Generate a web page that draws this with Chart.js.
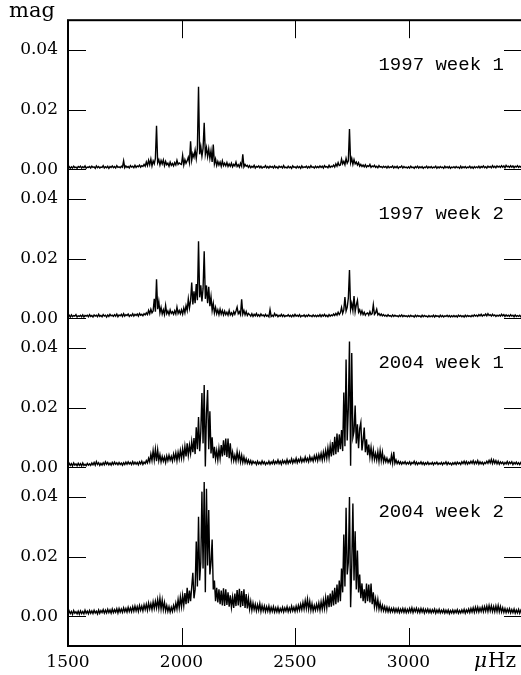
<!DOCTYPE html>
<html>
<head>
<meta charset="utf-8">
<script src="https://cdn.jsdelivr.net/npm/chart.js@4.4.1/dist/chart.umd.min.js"></script>
<style>
  html, body { margin: 0; padding: 0; background: #fff; overflow: hidden; }
  #wrap { width: 524px; height: 675px; }
</style>
</head>
<body>
<div id="wrap"><canvas id="spectra" width="524" height="675"></canvas></div>
<script>
// amplitude spectra, values in mmag, sampled every 5 microHz from 1500 microHz
const freqStart = 1500;
const freqStep = 5;

const amp1997w1 = [
  0.5,0.9,0.3,0.8,0.4,1.0,0.5,0.7,0.3,0.9,0.6,1.0,0.4,0.8,0.5,1.1,0.3,0.7,0.6,0.9,
  0.4,1.0,0.6,0.8,0.3,1.1,0.5,0.9,0.4,0.7,0.6,1.2,0.4,0.8,0.5,1.0,0.3,0.9,0.6,1.1,
  0.5,0.9,0.4,1.2,0.6,0.8,0.5,1.0,0.7,2.8,0.5,1.1,0.6,0.9,0.4,1.2,0.7,1.0,0.5,1.3,
  0.6,1.1,0.8,1.4,0.7,1.2,0.9,1.6,1.0,2.4,1.2,3.0,1.5,3.4,1.1,2.8,1.8,3.6,14.6,2.2,
  3.2,1.4,2.9,1.8,3.1,1.2,2.6,1.5,2.0,1.0,2.4,1.3,1.9,1.1,2.2,1.4,3.0,1.6,2.1,1.8,
  1.6,4.6,1.4,3.2,2.0,2.8,4.0,2.2,9.4,3.0,5.2,4.0,6.4,3.6,7.0,27.7,5.0,7.6,4.4,7.0,
  15.6,5.0,7.2,4.2,6.8,3.6,6.2,2.4,8.3,1.8,3.4,1.2,2.6,1.4,2.4,1.0,2.8,1.2,2.0,1.1,
  2.2,0.9,1.8,1.0,2.0,0.8,1.6,1.1,2.4,0.9,1.5,0.7,2.0,1.0,5.0,0.8,1.6,1.0,1.3,0.6,
  1.2,0.5,1.0,0.6,1.3,0.4,0.9,0.7,1.1,0.5,1.0,0.4,0.8,0.6,1.2,0.5,0.9,0.4,1.0,0.6,
  0.9,0.4,1.1,0.5,0.8,0.3,1.0,0.6,0.9,0.4,1.2,0.5,0.7,0.4,1.0,0.5,0.8,0.3,1.1,0.6,
  0.8,0.4,1.0,0.5,0.9,0.3,1.1,0.5,0.8,0.6,1.0,0.4,0.9,0.5,1.2,0.6,0.8,0.4,1.0,0.5,
  0.9,0.5,1.1,0.6,1.0,0.4,1.2,0.7,0.9,0.5,1.3,0.6,1.0,0.8,1.4,0.7,1.8,1.0,2.2,1.2,
  1.4,3.4,1.8,2.6,1.5,3.6,2.0,2.8,13.5,2.2,3.6,1.6,3.2,1.8,2.4,1.4,2.2,1.0,1.6,0.9,
  1.4,0.8,1.5,0.7,1.2,0.9,1.6,0.6,1.1,0.8,1.3,0.6,1.0,0.5,1.2,0.7,0.9,0.5,1.0,0.6,
  0.9,0.4,1.0,0.5,0.8,0.6,1.1,0.4,0.9,0.5,1.0,0.3,0.8,0.6,1.1,0.4,0.9,0.5,0.7,0.4,
  0.8,0.4,1.0,0.5,0.7,0.3,0.9,0.5,1.0,0.4,0.8,0.5,0.9,0.3,0.7,0.5,1.0,0.4,0.8,0.5,
  0.9,0.4,0.7,0.5,1.0,0.3,0.8,0.4,0.9,0.5,0.7,0.3,1.0,0.5,0.8,0.4,0.9,0.3,0.7,0.5,
  0.8,0.4,0.9,0.5,0.7,0.3,1.0,0.4,0.8,0.5,0.9,0.4,0.7,0.5,1.0,0.4,0.8,0.3,0.9,0.5,
  0.8,0.5,1.0,0.4,0.9,0.6,1.1,0.5,0.8,0.4,1.0,0.6,0.9,0.5,1.2,0.6,1.0,0.5,1.1,0.7,
  1.0,0.6,1.2,0.7,1.1,0.5,1.3,0.8,1.0,0.6,1.2,0.7,1.1,0.5,1.0,0.7,1.2,0.6,1.0,0.7,
  0.9
];

const amp1997w2 = [
  0.6,1.0,0.4,1.1,0.5,0.9,0.7,1.2,0.4,0.8,0.6,1.0,0.5,1.1,0.4,0.9,0.7,1.0,0.5,1.2,
  0.6,0.9,0.4,1.1,0.7,1.0,0.5,1.3,0.6,0.9,0.5,1.2,0.7,1.0,0.4,1.1,0.6,1.3,0.8,1.0,
  0.6,1.2,0.7,1.4,0.5,1.1,0.8,1.3,0.6,1.5,0.7,1.2,0.9,1.4,0.6,1.1,0.8,1.5,0.7,1.3,
  0.9,1.4,0.7,1.6,1.0,1.3,0.8,1.5,1.1,1.8,1.2,2.6,1.5,3.0,1.8,2.4,6.5,2.2,13.1,3.0,
  5.6,1.8,3.6,1.4,2.8,1.2,4.3,1.5,2.4,1.2,2.8,1.6,2.2,1.3,2.5,1.4,3.7,1.6,2.6,1.5,
  2.8,1.4,3.4,1.8,4.2,2.6,6.5,3.4,5.8,12.0,4.6,9.0,5.0,11.5,6.0,25.8,7.0,11.0,5.6,10.0,
  22.5,6.5,11.0,5.0,10.5,4.0,7.2,2.6,5.0,1.8,3.6,1.5,2.8,1.2,3.0,1.4,2.6,1.1,2.4,1.2,
  2.0,1.0,2.6,1.1,1.8,0.9,2.2,1.3,2.4,3.7,1.5,2.2,1.2,6.3,1.4,2.6,1.1,2.2,0.9,1.6,
  1.2,0.7,1.5,0.6,1.3,0.8,1.6,0.7,1.2,0.6,1.4,0.8,1.1,0.6,1.3,0.7,1.0,0.5,2.9,0.6,
  1.0,0.6,1.6,0.8,1.2,0.5,1.0,0.7,1.3,0.6,1.1,0.5,0.9,0.7,1.2,0.6,1.0,0.5,1.1,0.6,
  1.3,0.7,1.0,0.6,1.2,0.5,0.9,0.7,1.1,0.5,1.0,0.6,1.2,0.7,0.9,0.5,1.1,0.6,1.0,0.5,
  1.0,0.6,1.2,0.5,1.1,0.7,1.3,0.6,1.0,0.5,1.2,0.7,1.1,0.8,1.4,0.9,1.6,1.0,2.0,1.2,
  1.8,3.6,1.6,2.8,7.1,2.4,3.6,6.8,16.2,3.0,5.0,2.6,7.4,2.2,4.5,6.0,2.0,2.8,1.4,2.5,
  1.2,2.0,1.0,1.6,1.8,1.0,2.2,1.2,1.5,4.5,1.3,1.8,3.0,1.1,1.6,0.9,1.4,0.8,1.2,0.7,
  1.0,0.6,1.2,0.7,0.9,0.5,1.1,0.6,1.0,0.7,0.8,0.5,1.0,0.6,1.1,0.5,0.9,0.6,0.8,0.5,
  0.9,0.5,1.0,0.6,0.8,0.4,1.0,0.5,0.9,0.6,0.8,0.4,1.0,0.5,0.9,0.6,0.7,0.4,0.9,0.5,
  0.8,0.5,1.0,0.4,0.9,0.6,0.8,0.4,1.0,0.5,0.9,0.4,0.8,0.6,1.0,0.5,0.9,0.4,0.8,0.5,
  0.9,0.5,0.8,0.4,1.0,0.6,0.9,0.5,0.8,0.4,1.0,0.5,0.9,0.6,0.8,0.5,1.0,0.6,1.1,0.7,
  1.0,0.6,1.2,0.8,1.3,0.7,1.1,0.9,1.4,0.8,1.5,0.9,1.2,0.7,1.3,0.8,1.1,0.6,1.0,0.7,
  1.1,0.7,1.3,0.8,1.2,0.6,1.1,0.7,1.0,0.6,1.2,0.7,1.0,0.5,1.1,0.6,0.9,0.6,1.0,0.5,
  0.8
];

const amp2004w1 = [
  0.5,1.3,0.6,1.2,0.4,1.4,0.7,1.1,0.5,1.3,0.6,1.2,0.4,1.4,0.6,1.0,0.5,1.3,0.7,1.1,
  0.6,1.4,0.8,1.6,0.7,1.9,0.9,1.5,0.6,1.3,0.7,1.5,0.8,1.8,1.0,1.6,0.8,1.4,0.7,1.6,
  0.9,1.7,1.0,1.5,0.8,1.6,0.9,1.4,0.7,1.5,0.9,1.7,1.0,1.8,1.1,1.6,0.9,1.9,1.0,1.7,
  1.0,1.6,0.8,1.8,1.1,2.0,0.9,1.7,1.2,2.2,1.4,3.0,1.8,4.4,2.2,5.6,2.4,6.0,2.0,5.8,
  2.2,4.2,1.8,3.6,2.0,3.4,1.6,3.8,2.2,4.0,2.4,3.6,2.0,4.4,2.6,4.8,2.2,5.0,2.8,5.6,
  3.0,6.2,3.2,7.0,3.6,8.0,4.0,7.4,4.6,8.6,5.0,9.8,4.4,13.4,6.0,16.8,5.4,12.0,24.9,8.0,
  27.6,0.2,18.0,25.9,6.0,18.8,4.6,10.0,3.0,6.8,2.8,5.6,2.4,6.3,3.0,7.4,3.6,9.0,4.0,9.6,
  3.4,9.6,3.0,8.0,2.6,5.0,2.2,4.0,2.0,5.2,2.4,4.6,1.8,4.0,1.6,3.4,1.5,2.8,1.3,2.4,
  1.2,2.2,1.0,2.0,1.3,1.8,0.9,2.0,1.1,1.7,1.0,2.1,1.2,1.8,0.9,1.6,1.1,2.0,1.0,1.8,
  1.2,2.2,1.1,1.9,1.3,2.4,1.2,2.0,1.0,2.3,1.4,2.1,1.2,2.6,1.3,2.2,1.5,2.8,1.4,2.5,
  1.6,3.0,1.5,2.6,1.8,3.2,1.7,2.8,1.9,3.4,2.0,3.0,1.8,3.6,2.2,3.2,2.0,3.8,2.4,4.0,
  2.2,4.2,2.6,4.6,2.4,5.0,2.8,5.6,3.0,6.4,3.2,7.2,3.6,8.4,4.0,10.2,4.4,11.3,5.0,11.0,
  6.0,12.5,5.4,25.1,7.0,36.1,9.0,20.0,42.2,0.5,38.3,10.0,12.0,20.7,8.0,14.4,6.4,13.0,15.0,5.6,
  9.0,13.3,5.0,9.4,4.0,7.6,3.4,6.6,2.8,5.8,2.6,4.6,2.4,5.2,2.0,5.6,2.2,5.0,1.8,3.4,
  1.8,3.0,1.6,2.6,1.5,4.0,1.4,5.2,1.3,2.4,1.2,2.0,1.1,1.8,1.0,1.7,1.2,1.9,1.0,1.6,
  1.1,1.8,0.9,1.6,1.2,2.0,1.0,1.7,0.9,1.5,1.1,1.8,1.0,1.6,0.8,1.5,1.0,1.7,0.9,1.4,
  1.0,1.6,0.8,1.5,1.1,1.7,0.9,1.4,1.0,1.6,0.8,1.5,1.1,1.8,0.9,1.6,1.0,1.4,0.8,1.5,
  1.0,1.6,0.9,1.7,1.1,1.5,0.9,1.8,1.2,2.0,1.1,1.9,1.0,1.7,1.2,2.0,1.3,2.2,1.1,1.9,
  1.2,2.2,1.0,1.8,1.1,1.7,0.9,1.6,1.2,2.0,1.3,2.3,1.4,2.6,1.2,2.4,1.3,2.2,1.1,2.0,
  1.0,1.8,1.2,1.7,0.9,1.6,1.1,1.9,1.0,1.7,1.2,1.8,0.9,1.6,1.1,1.7,1.0,1.5,0.9,1.6,
  1.2
];

const amp2004w2 = [
  0.7,1.8,0.9,1.6,0.6,1.9,1.0,1.5,0.8,1.7,0.7,1.8,0.9,1.6,0.8,2.0,1.0,1.7,0.8,1.9,
  1.0,1.8,0.9,2.0,1.1,1.7,0.8,2.1,1.0,1.9,1.2,2.2,1.0,2.0,1.1,2.3,1.2,2.1,1.0,2.4,
  1.2,2.2,1.3,2.5,1.1,2.6,1.4,2.4,1.3,2.8,1.5,2.6,1.4,3.0,1.6,2.8,1.5,3.2,1.7,3.4,
  1.8,3.2,1.6,3.6,2.0,3.4,1.8,3.8,2.2,4.0,2.0,4.4,2.4,4.2,2.2,4.8,2.6,5.0,2.8,5.6,
  2.6,6.0,2.4,5.4,2.2,4.6,1.8,3.6,1.6,3.2,1.4,3.0,1.6,3.6,2.0,4.4,2.4,5.6,2.8,6.4,
  3.2,7.0,3.6,7.8,4.0,9.5,4.4,8.6,5.0,9.8,14.6,6.0,9.0,25.1,10.0,33.4,12.0,18.0,41.8,16.0,
  45.0,8.0,42.8,17.0,35.6,14.0,18.0,25.7,9.0,12.0,5.0,9.5,4.6,9.0,4.0,8.6,3.6,9.4,3.4,9.0,
  3.8,8.0,3.2,7.0,3.0,6.4,2.8,7.6,3.4,8.8,3.6,9.2,3.0,8.4,3.4,9.0,2.8,7.4,2.6,6.0,
  2.4,5.0,2.0,4.4,2.2,4.0,1.8,3.8,2.0,4.2,1.6,3.6,1.8,3.4,1.5,3.2,1.7,3.4,1.4,3.0,
  1.6,3.2,1.4,2.8,1.5,3.0,1.3,2.6,1.6,3.0,1.4,2.8,1.7,3.2,1.5,2.8,1.6,3.4,1.8,3.0,
  1.6,3.4,1.8,3.6,2.0,4.0,2.2,4.6,2.4,5.2,2.6,5.7,2.4,5.0,2.0,4.2,1.8,3.6,2.0,4.0,
  2.2,4.4,2.0,4.8,2.4,5.4,2.6,6.2,2.8,7.0,3.0,7.6,3.2,8.6,3.6,9.5,4.0,10.6,4.6,12.0,
  5.0,16.0,8.0,27.4,10.0,36.4,14.0,18.0,40.0,3.0,17.0,37.8,12.0,28.5,9.0,22.0,8.0,14.0,6.0,11.0,
  5.0,9.0,4.4,11.0,5.0,10.6,4.6,11.0,4.0,8.0,3.2,5.8,2.8,5.6,2.4,4.4,2.0,3.6,1.8,3.2,
  1.6,3.0,1.5,2.8,1.4,2.6,1.5,2.7,1.3,2.5,1.4,2.6,1.2,2.4,1.4,2.6,1.3,2.5,1.2,2.3,
  1.3,2.6,1.4,2.8,1.2,2.5,1.5,2.7,1.3,2.4,1.2,2.6,1.4,2.5,1.1,2.3,1.3,2.4,1.2,2.2,
  1.1,2.2,1.3,2.4,1.0,2.1,1.2,2.3,1.1,2.0,1.2,2.2,1.0,2.0,1.1,2.1,0.9,1.9,1.1,2.1,
  1.0,2.0,1.2,2.2,1.0,1.9,1.1,2.1,1.2,2.3,1.0,2.1,1.3,2.4,1.2,2.6,1.4,2.8,1.3,3.0,
  1.5,3.0,1.4,2.8,1.6,3.1,1.5,3.2,1.7,3.4,1.6,3.6,1.8,3.5,1.6,3.2,1.5,3.4,1.6,3.6,
  1.5,3.2,1.4,2.8,1.3,2.6,1.2,2.4,1.3,2.5,1.1,2.2,1.2,2.4,1.0,2.1,1.1,2.3,1.0,2.0,
  1.3
];

const panelSeries = [amp1997w1, amp1997w2, amp2004w1, amp2004w2];
const panelLabels = ["1997 week 1", "1997 week 2", "2004 week 1", "2004 week 2"];
const panelOffsets = [0.15, 0.10, 0.05, 0.0]; // mag, each spectrum shifted up
const yTickValues = [0, 0.02, 0.04];
const xTickValues = [1500, 2000, 2500, 3000];

const serif = "'DejaVu Serif', serif";

function buildDatasets() {
  return panelSeries.map((amps, p) => ({
    label: panelLabels[p],
    data: amps.map((a, i) => ({
      x: freqStart + i * freqStep,
      y: panelOffsets[p] + a / 1000,
    })),
    borderColor: "#000",
    borderWidth: 1.4,
    pointRadius: 0,
    tension: 0,
    fill: false,
  }));
}

const framePlugin = {
  id: "frame",
  afterDraw(chart) {
    const { ctx, chartArea: a, scales } = chart;
    const { x, y } = scales;
    const line = (x1, y1, x2, y2) => {
      ctx.beginPath();
      ctx.moveTo(x1, y1);
      ctx.lineTo(x2, y2);
      ctx.stroke();
    };
    ctx.save();
    ctx.strokeStyle = "#000";
    ctx.lineWidth = 2;
    ctx.strokeRect(a.left, a.top, a.right - a.left, a.bottom - a.top);

    // inward ticks
    ctx.lineWidth = 1;
    y.ticks.forEach((t) => {
      const py = Math.round(y.getPixelForValue(t.value)) + 0.5;
      line(a.left, py, a.left + 18, py);
      line(a.right - 18, py, a.right, py);
    });
    x.ticks.forEach((t) => {
      if (t.value <= x.min) return;
      const px = Math.round(x.getPixelForValue(t.value)) + 0.5;
      line(px, a.bottom, px, a.bottom - 18);
      line(px, a.top, px, a.top + 18);
    });

    // panel captions
    ctx.fillStyle = "#000";
    ctx.font = "19px 'Liberation Mono', monospace";
    ctx.textAlign = "right";
    ctx.textBaseline = "middle";
    panelLabels.forEach((txt, p) => {
      ctx.fillText(txt, x.getPixelForValue(3420), y.getPixelForValue(panelOffsets[p] + 0.035));
    });

    // axis units
    ctx.font = "21px " + serif;
    ctx.textAlign = "center";
    ctx.fillText("mag", 32, 12);
    ctx.textAlign = "left";
    ctx.font = "italic 20px " + serif;
    ctx.fillText("\u03bc", 474, 662);
    ctx.font = "20px " + serif;
    ctx.fillText("Hz", 488, 662);
    ctx.restore();
  },
};

const chart = new Chart(document.getElementById("spectra"), {
  type: "line",
  data: { datasets: buildDatasets() },
  options: {
    responsive: false,
    animation: false,
    layout: { padding: { top: 11, right: 2, bottom: 0, left: 0 } },
    scales: {
      x: {
        type: "linear",
        min: 1500,
        max: 3500,
        grid: { display: false, drawTicks: false },
        border: { display: false },
        afterBuildTicks: (scale) => {
          scale.ticks = xTickValues.map((v) => ({ value: v }));
        },
        afterFit: (scale) => {
          scale.height = 29;
        },
        ticks: {
          color: "#000",
          padding: 6,
          maxRotation: 0,
          autoSkip: false,
          font: { family: serif, size: 17 },
          callback: (v) => String(v),
        },
      },
      y: {
        min: -0.01,
        max: 0.2,
        grid: { display: false, drawTicks: false },
        border: { display: false },
        afterBuildTicks: (scale) => {
          scale.ticks = panelOffsets.flatMap((o) =>
            yTickValues.map((t) => ({ value: o + t })),
          );
        },
        afterFit: (scale) => {
          scale.width = 68;
        },
        ticks: {
          color: "#000",
          padding: 10,
          autoSkip: false,
          font: { family: serif, size: 17 },
          callback: (v) => {
            const hundredths = Math.round(v * 100) % 5;
            return (hundredths / 100).toFixed(2);
          },
        },
      },
    },
    plugins: {
      legend: { display: false },
      tooltip: { enabled: false },
    },
  },
  plugins: [framePlugin],
});
</script>
</body>
</html>
